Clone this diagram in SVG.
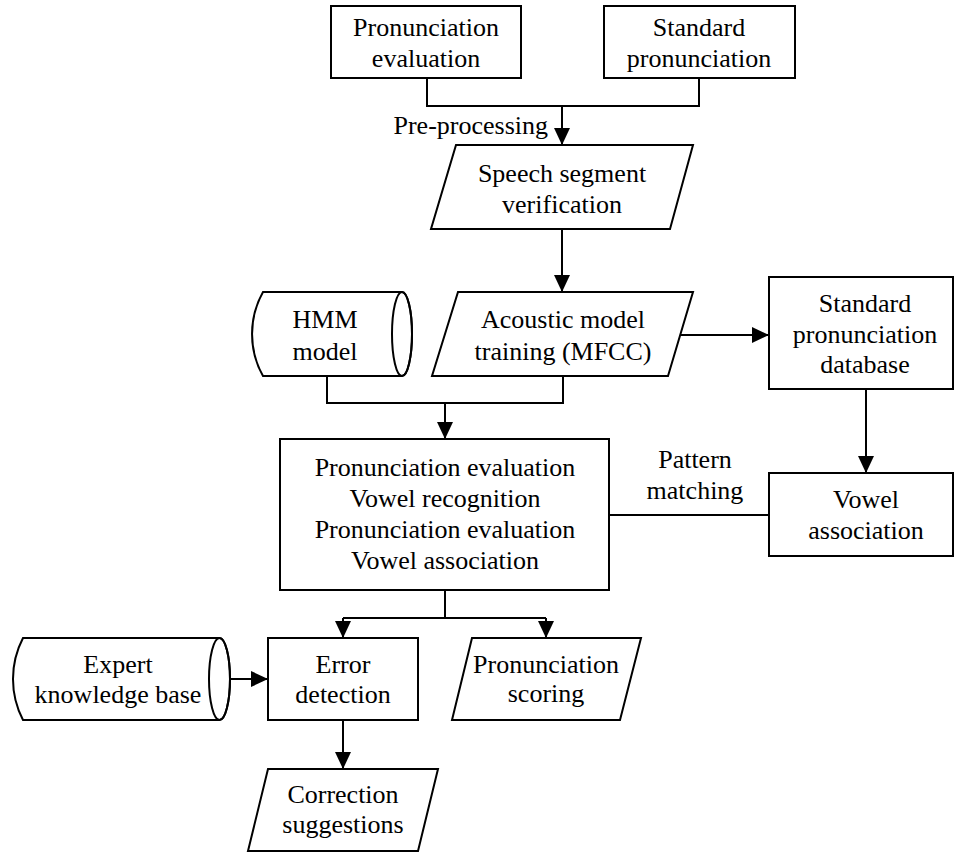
<svg xmlns="http://www.w3.org/2000/svg" width="955" height="852" viewBox="0 0 955 852">
<style>
  .s { fill: #fff; stroke: #000; stroke-width: 2; }
  .c { fill: none; stroke: #000; stroke-width: 2; }
  .t { font-size: 26px; fill: #000; text-anchor: middle; }
</style>
<defs>
  <marker id="arr" markerUnits="userSpaceOnUse" markerWidth="18" markerHeight="17" refX="17" refY="8" orient="auto">
    <path d="M0,0 L17,8 L0,16 Z" fill="#000"/>
  </marker>
</defs>
<rect width="955" height="852" fill="#fff"/>

<g font-family="Liberation Serif, Times New Roman, serif">
<g id="connectors">
  <path class="c" d="M427,78 V106 H699 V78"/>
  <path class="c" d="M562,106 V145" marker-end="url(#arr)"/>
  <path class="c" d="M562,229 V292" marker-end="url(#arr)"/>
  <path class="c" d="M327,376 V403 H563 V376"/>
  <path class="c" d="M445,403 V439" marker-end="url(#arr)"/>
  <path class="c" d="M680,335 H769" marker-end="url(#arr)"/>
  <path class="c" d="M866,389 V473" marker-end="url(#arr)"/>
  <path class="c" d="M609,515 H769"/>
  <path class="c" d="M445,590 V618 M343,618 H546"/>
  <path class="c" d="M343,618 V638" marker-end="url(#arr)"/>
  <path class="c" d="M546,618 V638" marker-end="url(#arr)"/>
  <path class="c" d="M230,679 H268" marker-end="url(#arr)"/>
  <path class="c" d="M343,720 V769" marker-end="url(#arr)"/>
  <text class="t" x="548" y="134" text-anchor="end" style="text-anchor:end">Pre-processing</text>
  <text class="t" x="695" y="468">Pattern</text>
  <text class="t" x="695" y="499">matching</text>
</g>

<g id="pron-eval-input">
  <rect class="s" x="331" y="6" width="190" height="72"/>
  <text class="t" x="426" y="36">Pronunciation</text>
  <text class="t" x="426" y="67">evaluation</text>
</g>

<g id="standard-pron-input">
  <rect class="s" x="604" y="6" width="191" height="72"/>
  <text class="t" x="699" y="36">Standard</text>
  <text class="t" x="699" y="67">pronunciation</text>
</g>

<g id="speech-segment">
  <path class="s" d="M456,145 H693 L670,229 H431 Z"/>
  <text class="t" x="562" y="182">Speech segment</text>
  <text class="t" x="562" y="213">verification</text>
</g>

<g id="hmm-model">
  <path class="s" d="M263,292 H402 A10,42 0 0 1 402,376 H263 A86,86 0 0 1 263,292 Z"/>
  <ellipse class="c" cx="402" cy="334" rx="10" ry="42"/>
  <text class="t" x="325" y="328">HMM</text>
  <text class="t" x="325" y="360">model</text>
</g>

<g id="acoustic-model">
  <path class="s" d="M458,292 H693 L668,376 H432 Z"/>
  <text class="t" x="563" y="328">Acoustic model</text>
  <text class="t" x="563" y="360">training (MFCC)</text>
</g>

<g id="standard-db">
  <rect class="s" x="769" y="277" width="184" height="112"/>
  <text class="t" x="865" y="312">Standard</text>
  <text class="t" x="865" y="343">pronunciation</text>
  <text class="t" x="865" y="373">database</text>
</g>

<g id="main-eval">
  <rect class="s" x="280" y="439" width="329" height="151"/>
  <text class="t" x="445" y="476">Pronunciation evaluation</text>
  <text class="t" x="445" y="507">Vowel recognition</text>
  <text class="t" x="445" y="538">Pronunciation evaluation</text>
  <text class="t" x="445" y="569">Vowel association</text>
</g>

<g id="vowel-association">
  <rect class="s" x="769" y="473" width="184" height="83"/>
  <text class="t" x="866" y="508">Vowel</text>
  <text class="t" x="866" y="539">association</text>
</g>

<g id="expert-kb">
  <path class="s" d="M23,638 H219.5 A10.5,41 0 0 1 219.5,720 H23 A89,89 0 0 1 23,638 Z"/>
  <ellipse class="c" cx="219.5" cy="679" rx="10.5" ry="41"/>
  <text class="t" x="118" y="673">Expert</text>
  <text class="t" x="118" y="703">knowledge base</text>
</g>

<g id="error-detection">
  <rect class="s" x="268" y="638" width="150" height="82"/>
  <text class="t" x="343" y="673">Error</text>
  <text class="t" x="343" y="703">detection</text>
</g>

<g id="pron-scoring">
  <path class="s" d="M472,638 H641 L620,720 H452 Z"/>
  <text class="t" x="546" y="673">Pronunciation</text>
  <text class="t" x="546" y="702">scoring</text>
</g>

<g id="correction">
  <path class="s" d="M268,769 H438 L418,851 H248 Z"/>
  <text class="t" x="343" y="803">Correction</text>
  <text class="t" x="343" y="833">suggestions</text>
</g>
</g>
</svg>
